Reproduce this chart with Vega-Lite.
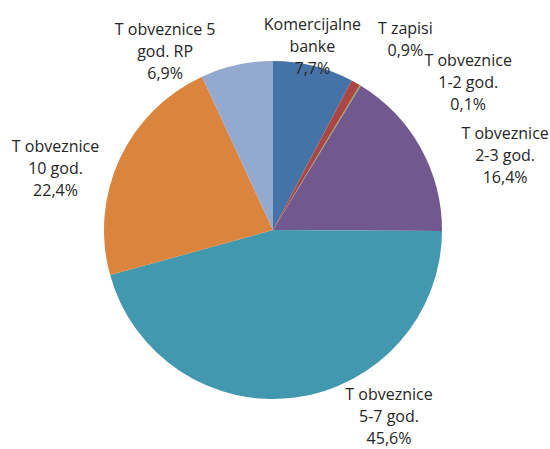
{
  "$schema": "https://vega.github.io/schema/vega-lite/v6.json",
  "width": 546,
  "height": 438,
  "autosize": "none",
  "padding": {"left": 0, "top": 11, "right": 4, "bottom": 0},
  "background": "white",
  "config": {"view": {"stroke": null}, "text": {"font": "Open Sans", "fontSize": 16, "lineHeight": 22, "align": "center", "baseline": "middle", "color": "#262626"}},
  "data": {
    "values": [
      {"rank": 1, "cat": "Komercijalne banke", "value": 7.7, "label": ["Komercijalne", "banke", "7,7%"]},
      {"rank": 2, "cat": "T zapisi", "value": 0.9, "label": ["T zapisi", "0,9%"]},
      {"rank": 3, "cat": "T obveznice 1-2 god.", "value": 0.1, "label": ["T obveznice", "1-2 god.", "0,1%"]},
      {"rank": 4, "cat": "T obveznice 2-3 god.", "value": 16.4, "label": ["T obveznice", "2-3 god.", "16,4%"]},
      {"rank": 5, "cat": "T obveznice 5-7 god.", "value": 45.6, "label": ["T obveznice", "5-7 god.", "45,6%"]},
      {"rank": 6, "cat": "T obveznice 10 god.", "value": 22.4, "label": ["T obveznice", "10 god.", "22,4%"]},
      {"rank": 7, "cat": "T obveznice 5 god. RP", "value": 6.9, "label": ["T obveznice 5", "god. RP", "6,9%"]}
    ]
  },
  "encoding": {
    "theta": {"field": "value", "type": "quantitative", "stack": true},
    "order": {"field": "rank", "type": "quantitative"}
  },
  "layer": [
    {
      "mark": {"type": "arc", "outerRadius": 169},
      "encoding": {
        "color": {
          "field": "cat", "type": "nominal", "legend": null,
          "scale": {
            "domain": ["Komercijalne banke", "T zapisi", "T obveznice 1-2 god.", "T obveznice 2-3 god.", "T obveznice 5-7 god.", "T obveznice 10 god.", "T obveznice 5 god. RP"],
            "range": ["#4572A7", "#AA4643", "#89A54E", "#71588F", "#4198AF", "#DB843D", "#93A9CF"]
          }
        }
      }
    },
    {
      "mark": {"type": "text", "radius": 185, "dx": -5, "dy": -25},
      "encoding": {"detail": {"field": "cat"}, "text": {"condition": {"test": "datum.cat === 'Komercijalne banke'", "field": "label"}, "value": ""}}
    },
    {
      "mark": {"type": "text", "radius": 215, "dx": 27, "dy": -14},
      "encoding": {"detail": {"field": "cat"}, "text": {"condition": {"test": "datum.cat === 'T zapisi'", "field": "label"}, "value": ""}}
    },
    {
      "mark": {"type": "text", "radius": 215, "dx": 84, "dy": 15},
      "encoding": {"detail": {"field": "cat"}, "text": {"condition": {"test": "datum.cat === 'T obveznice 1-2 god.'", "field": "label"}, "value": ""}}
    },
    {
      "mark": {"type": "text", "radius": 220, "dx": 40, "dy": 11},
      "encoding": {"detail": {"field": "cat"}, "text": {"condition": {"test": "datum.cat === 'T obveznice 2-3 god.'", "field": "label"}, "value": ""}}
    },
    {
      "mark": {"type": "text", "radius": 190, "dx": 91, "dy": -23},
      "encoding": {"detail": {"field": "cat"}, "text": {"condition": {"test": "datum.cat === 'T obveznice 5-7 god.'", "field": "label"}, "value": ""}}
    },
    {
      "mark": {"type": "text", "radius": 200, "dx": -36, "dy": 1},
      "encoding": {"detail": {"field": "cat"}, "text": {"condition": {"test": "datum.cat === 'T obveznice 10 god.'", "field": "label"}, "value": ""}}
    },
    {
      "mark": {"type": "text", "radius": 190, "dx": -67, "dy": -14},
      "encoding": {"detail": {"field": "cat"}, "text": {"condition": {"test": "datum.cat === 'T obveznice 5 god. RP'", "field": "label"}, "value": ""}}
    }
  ]
}
